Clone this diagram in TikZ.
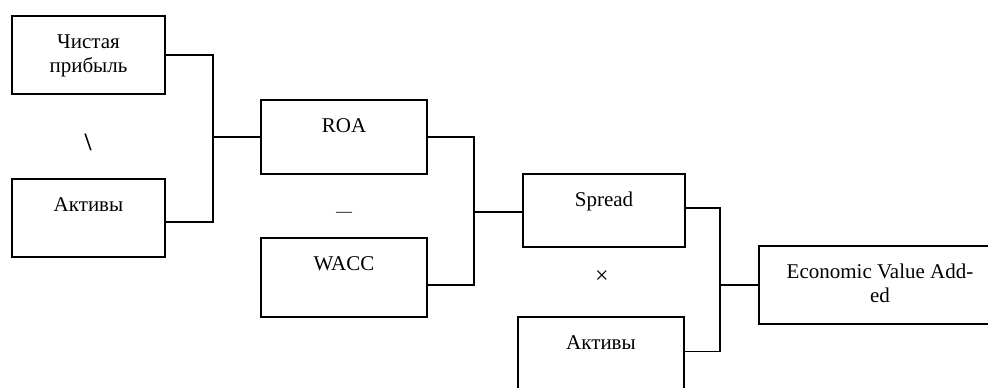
\documentclass[tikz,border=0pt]{standalone}
\usepackage{fontspec}
\setmainfont{Liberation Serif}
\begin{document}
\begin{tikzpicture}[x=1pt,y=-1pt,
  box/.style={draw, line width=1.4pt, rectangle, inner sep=0pt},
  lbl/.style={font=\fontsize{21}{24}\selectfont, align=center, inner sep=0pt, anchor=base},
  sym/.style={font=\fontsize{21}{24}\selectfont, inner sep=0pt},
  conn/.style={draw, line width=1.3pt}]
\useasboundingbox (0,0) rectangle (988,388);
\clip (0,0) rectangle (988,388);
% boxes
\node[box, minimum width=153pt, minimum height=78pt] (chp) at (88.5,55) {};
\node[box, minimum width=153pt, minimum height=78pt] (akt1) at (88.5,218) {};
\node[box, minimum width=166pt, minimum height=74pt] (roa) at (344,137) {};
\node[box, minimum width=166pt, minimum height=79pt] (wacc) at (344,277.5) {};
\node[box, minimum width=162pt, minimum height=73pt] (spread) at (604,210.5) {};
\node[box, minimum width=166pt, minimum height=79pt] (akt2) at (601,356.5) {};
\node[box, minimum width=242pt, minimum height=78pt] (eva) at (880,285) {};
% texts
\node[lbl] (tchp) at (88.5,72) {Чистая\\прибыль};
\node[lbl] (takt1) at (88.5,211) {Активы};
\node[lbl] (troa) at (344,132) {ROA};
\node[lbl] (twacc) at (344,270) {WACC};
\node[lbl] (tspread) at (604,206) {Spread};
\node[lbl] (takt2) at (601,349) {Активы};
\node[lbl] (teva) at (880,302) {Economic Value Add-\\ed};
% operators
\node[sym, font=\fontsize{25}{28}\selectfont\bfseries] (op1) at (88,142) {\textbackslash};
\node[sym, font=\fontsize{16}{18}\selectfont, anchor=base] (op2) at (344,216) {—};
\node[sym, font=\fontsize{24}{26}\selectfont] (op3) at (602,277) {×};
% connectors
\coordinate (j1) at (213,137);
\coordinate (j2) at (474,212);
\coordinate (j3) at (720,285);
\draw[conn] (chp.east) -| (j1) |- ([yshift=-4pt]akt1.east);
\draw[conn] (j1) -- (roa.west);
\draw[conn] (roa.east) -| (j2) |- ([yshift=-7.5pt]wacc.east);
\draw[conn] (j2) -- (j2 -| spread.west);
\draw[conn] ([yshift=2.5pt]spread.east) -| (j3) |- ([yshift=5pt]akt2.east);
\draw[conn] (j3) -- (eva.west);
\end{tikzpicture}
\end{document}
